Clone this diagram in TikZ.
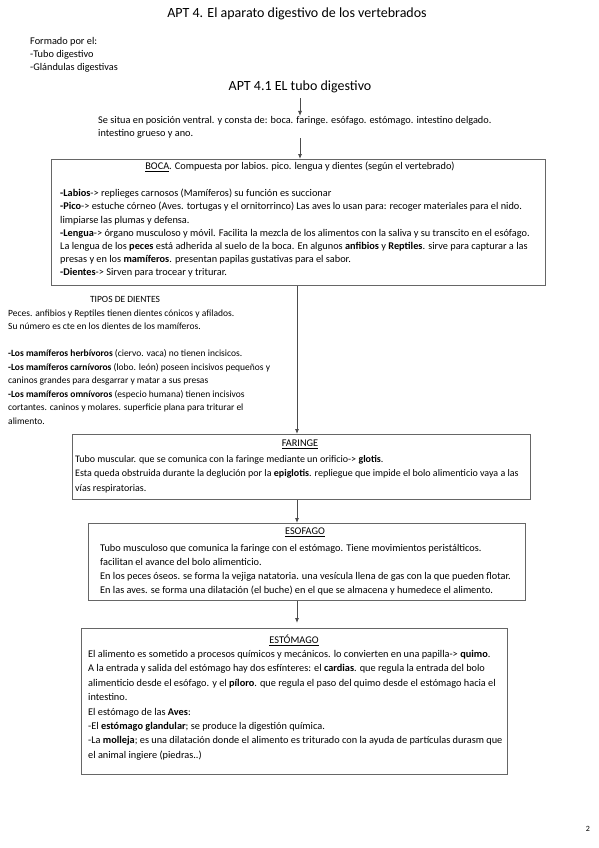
\documentclass[tikz,border=0pt]{standalone}
\usepackage{fontspec}
\setmainfont{Carlito}
\usetikzlibrary{positioning,arrows.meta,calc}

\begin{document}
\begin{tikzpicture}[
  x=1pt, y=1pt, >=Latex,
  font=\fontsize{10.3}{13}\selectfont,
  big/.style={inner sep=0pt, font=\fontsize{14}{16}\selectfont},
  txt/.style={inner sep=0pt, anchor=north west, align=left},
  body/.style={txt, font=\fontsize{10.3}{#1}\selectfont},
  small/.style={txt, font=\fontsize{9.5}{13.5}\selectfont},
  head/.style={inner sep=0pt},
  box/.style={draw=black!60, line width=1pt, anchor=north west, inner sep=0pt},
  flow/.style={-{Latex[length=5pt,width=4pt]}, draw=black!70, line width=0.8pt},
]
\useasboundingbox (0,0) rectangle (599,-848);
% titles and intro
\node[big] (title) at (297,-14) {APT 4. El aparato digestivo de los vertebrados};
\node[body=13] (parts) at (30,-37)
  {Formado por el:\\-Tubo digestivo\\-Glándulas digestivas};
\node[big] (sub) at (300,-87) {APT 4.1 EL tubo digestivo};
\node[body=13] (intro) at (98,-116)
  {Se situa en posición ventral. y consta de: boca. faringe. esófago. estómago. intestino delgado.\\%
   intestino grueso y ano.};
\coordinate (axis) at (297,0);
% boca
\node[box, minimum width=494, minimum height=126] (boca) at (51,-159) {};
\node[head] (bocahead) at (300,-167)
  {\underline{BOCA}. Compuesta por labios. pico. lengua y dientes (según el vertebrado)};
\node[body=13.2] (bocatext) at ($(boca.north west)+(9,-30)$)
  {\textbf{-Labios}-> replieges carnosos (Mamíferos) su función es succionar\\
   \textbf{-Pico}-> estuche córneo (Aves. tortugas y el ornitorrinco) Las aves lo usan para: recoger materiales para el nido.\\
   limpiarse las plumas y defensa.\\
   \textbf{-Lengua}-> órgano musculoso y móvil. Facilita la mezcla de los alimentos con la saliva y su transcito en el esófago.\\
   La lengua de los \textbf{peces} está adherida al suelo de la boca. En algunos \textbf{anfibios} y \textbf{Reptiles}. sirve para capturar a las\\
   presas y en los \textbf{mamíferos}. presentan papilas gustativas para el sabor.\\
   \textbf{-Dientes}-> Sirven para trocear y triturar.};
% tipos de dientes
\node[head, font=\fontsize{9.5}{10}\selectfont] (dienteshead) at (125,-299) {TIPOS DE DIENTES};
\node[small] (dientes) at (8,-309.5)
  {Peces. anfibios y Reptiles tienen dientes cónicos y afilados.\\
   Su número es cte en los dientes de los mamíferos.\\[13.5pt]
   \textbf{-Los mamíferos herbívoros} (ciervo. vaca) no tienen incisicos.\\
   \textbf{-Los mamíferos carnívoros} (lobo. león) poseen incisivos pequeños y\\
   caninos grandes para desgarrar y matar a sus presas\\
   \textbf{-Los mamíferos omnívoros} (especio humana) tienen incisivos\\
   cortantes. caninos y molares. superficie plana para triturar el\\
   alimento.};
% faringe
\node[box, minimum width=458, minimum height=65] (faringe) at (72,-434) {};
\node[head] (faringehead) at (300,-444) {\underline{FARINGE}};
\node[body=14.5, font=\fontsize{10}{14.5}\selectfont] (faringetext) at ($(faringe.north west)+(3,-21)$)
  {Tubo muscular. que se comunica con la faringe mediante un orificio-> \textbf{glotis}.\\
   Esta queda obstruida durante la deglución por la \textbf{epiglotis}. repliegue que impide el bolo alimenticio vaya a las\\
   vías respiratorias.};
% esofago
\node[box, minimum width=437, minimum height=77] (esofago) at (88,-523) {};
\node[head] (esofagohead) at (305,-532) {\underline{ESOFAGO}};
\node[body=14] (esofagotext) at ($(esofago.north west)+(12,-21)$)
  {Tubo musculoso que comunica la faringe con el estómago. Tiene movimientos peristálticos.\\
   facilitan el avance del bolo alimenticio.\\
   En los peces óseos. se forma la vejiga natatoria. una vesícula llena de gas con la que pueden flotar.\\
   En las aves. se forma una dilatación (el buche) en el que se almacena y humedece el alimento.};
% estomago
\node[box, minimum width=426, minimum height=146] (estomago) at (81,-628) {};
\node[head] (estomagohead) at (294,-640) {\underline{ESTÓMAGO}};
\node[body=14.4] (estomagotext) at ($(estomago.north west)+(7,-22)$)
  {El alimento es sometido a procesos químicos y mecánicos. lo convierten en una papilla-> \textbf{quimo}.\\
   A la entrada y salida del estómago hay dos esfínteres: el \textbf{cardias}. que regula la entrada del bolo\\
   alimenticio desde el esófago. y el \textbf{píloro}. que regula el paso del quimo desde el estómago hacia el\\
   intestino.\\
   El estómago de las \textbf{Aves}:\\
   -El \textbf{estómago glandular}; se produce la digestión química.\\
   -La \textbf{molleja}; es una dilatación donde el alimento es triturado con la ayuda de partículas durasm que\\
   el animal ingiere (piedras..)};
\node[head, font=\fontsize{8}{10}\selectfont] (pagenum) at (588,-829) {2};
% flows
\draw[flow, shorten <=5pt] (sub.south) -- (sub.south |- intro.north);
\draw[flow] (intro.south -| sub.south) -- (boca.north -| sub.south);
\draw[flow] (boca.south -| axis) -- (faringe.north -| axis);
\draw[flow] (faringe.south -| axis) -- (esofago.north -| axis);
\draw[flow, shorten >=5pt] (esofago.south -| axis) -- (estomago.north -| axis);
\end{tikzpicture}
\end{document}
